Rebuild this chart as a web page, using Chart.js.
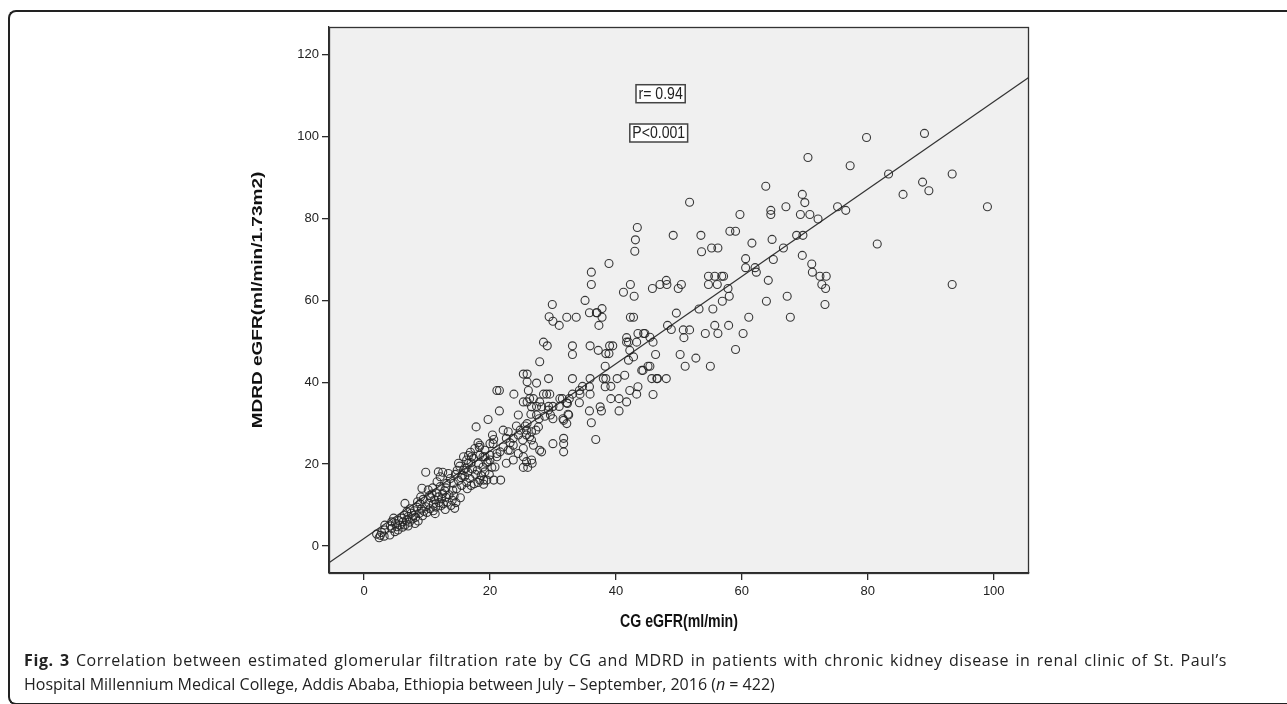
<!DOCTYPE html>
<html>
<head>
<meta charset="utf-8">
<script src="https://cdn.jsdelivr.net/npm/chart.js@4.4.1/dist/chart.umd.min.js"></script>
<style>
  html, body { margin: 0; padding: 0; background: #fff; }
  body { width: 1287px; height: 704px; position: relative; overflow: hidden; }
  #frame { position: absolute; left: 8px; top: 10px; width: 1300px; height: 691px;
           border: 2px solid #222; border-right: none; border-radius: 8px 0 0 8px; }
  #wrap { position: absolute; left: 0; top: 0; width: 1287px; height: 650px; }
  .cap { position: absolute; left: 24px; font-family: "Open Sans", "Noto Sans", sans-serif;
         font-size: 16px; line-height: 24px; color: #222; white-space: normal; }
  #cap1 { top: 648px; width: 1203px; letter-spacing: 0.62px; text-align: justify; text-align-last: justify; }
  #cap2 { top: 672px; width: 1250px; }
  .cap b { font-weight: 700; }
</style>
</head>
<body>
<div id="frame"></div>
<div id="wrap"><canvas id="c" width="1287" height="650"></canvas></div>
<div class="cap" id="cap1"><b>Fig. 3</b> Correlation between estimated glomerular filtration rate by CG and MDRD in patients with chronic kidney disease in renal clinic of St. Paul’s</div>
<div class="cap" id="cap2">Hospital Millennium Medical College, Addis Ababa, Ethiopia between July – September, 2016 (<i>n</i> = 422)</div>
<script>
// ---- Data: [CG eGFR, MDRD eGFR] ----
const highPoints = [
 [79.8,99.8],[89.0,100.8],[70.5,94.9],[77.2,92.9],[83.3,90.9],[93.4,90.9],[88.7,88.9],[89.7,86.8],
 [85.6,85.9],[99.0,82.9],[51.7,84.0],[63.8,87.9],[69.6,85.9],[70.0,83.9],[59.7,81.0],[64.6,82.0],
 [64.6,81.0],[67.0,82.9],[69.3,81.0],[70.8,81.0],[72.1,79.9],[75.2,82.9],[76.5,82.0],[49.1,75.9],
 [53.5,75.9],[53.6,71.9],[55.2,72.8],[56.2,72.8],[58.1,76.9],[59.0,76.9],[61.6,74.0],[64.8,74.9],
 [66.6,72.8],[68.7,75.9],[69.7,75.9],[69.6,71.0],[81.5,73.8],[60.6,70.2],[65.0,70.0],[71.1,68.9],
 [43.4,77.8],[43.1,74.8],[43.0,72.0],[38.9,69.0],[71.2,66.9],[72.4,65.9],[73.4,65.9],[72.7,63.9],
 [73.3,62.9],[73.2,59.0],[93.4,63.9],[60.6,68.0],[62.1,68.0],[62.3,66.9],[64.2,64.9],[54.7,65.9],
 [55.7,65.9],[56.8,65.9],[57.1,65.9],[54.7,63.9],[56.1,63.9],[57.8,62.9],[58.0,61.0],[56.9,59.8],
 [36.1,66.9],[36.1,63.9],[42.3,63.9],[42.9,61.0],[41.2,62.0],[45.8,62.9],[47.0,63.9],[48.0,64.9],
 [48.1,63.9],[49.9,62.9],[50.4,63.9],[63.9,59.8],[67.2,61.0]
];
const midPoints = [
 [55.4,57.9],[53.2,57.9],[49.6,56.9],[67.7,55.9],[61.1,55.9],[57.9,53.9],[55.7,53.9],[56.2,51.9],
 [54.2,51.9],[51.7,52.8],[50.7,52.8],[48.2,53.9],[48.8,52.9],[50.8,50.9],[45.9,49.8],[45.4,51.0],
 [60.2,51.9],[59.0,48.0],[46.3,46.8],[50.2,46.8],[52.7,45.9],[51.0,43.9],[55.0,43.9],[45.4,43.9],
 [45.7,40.9],[46.6,40.9],[48.0,40.9],[45.9,37.0],[29.9,59.0],[35.1,60.0],[35.8,57.0],[37.0,57.0],
 [37.8,58.0],[37.8,55.9],[37.3,53.9],[29.4,56.0],[30.0,54.9],[31.0,53.9],[32.2,55.9],[33.7,55.9],
 [42.3,55.9],[42.8,55.9],[43.5,51.9],[44.4,51.9],[41.7,50.9],[41.7,49.8],[43.3,49.8],[42.2,47.8],
 [44.3,42.9],[43.5,38.9],[43.3,37.1],[42.2,38.0],[41.7,35.2],[40.5,36.0],[40.5,33.0],[39.2,36.0],
 [39.2,39.0],[40.2,40.9],[38.3,43.9],[38.4,40.9],[38.0,40.9],[38.3,38.9],[38.4,47.0],[38.9,47.0],
 [39.5,48.9],[39.0,48.9],[37.2,47.8],[35.9,48.9],[33.1,48.9],[33.1,46.8],[28.5,49.8],[29.1,48.9],
 [27.9,45.0],[25.3,42.0],[25.9,42.0],[25.9,40.1],[27.4,39.8],[29.3,40.9],[33.1,40.9],[35.9,40.9],
 [35.8,38.9],[34.7,39.0],[35.9,37.1],[34.2,38.0],[34.2,35.0],[31.5,36.0],[31.1,36.0],[32.3,34.8],
 [32.6,36.0],[35.8,33.0],[37.5,34.0],[37.7,33.0],[36.1,30.1],[36.8,26.0],[32.5,32.0],[31.7,30.7],
 [32.2,29.9],[31.7,26.3],[31.7,25.0],[31.7,23.0],[30.0,25.0],[28.5,37.1],[29.0,37.1],[29.5,37.1],
 [27.4,34.1],[28.2,34.0],[29.3,34.1],[30.0,34.1],[31.0,34.1],[29.3,33.2],[29.6,32.0],[30.0,31.1],
 [26.5,32.2],[27.7,29.1],[26.3,36.0],[25.3,35.2],[25.9,35.2],[26.6,34.0],[27.4,32.0],[28.2,23.0],
 [23.8,37.1],[24.5,32.0],[21.5,38.0],[21.1,38.0],[21.5,33.0],[19.7,30.9],[17.8,29.1],[18.1,25.2],
 [18.3,24.1],[20.4,27.1],[20.6,26.0],[42.0,45.4],[45.1,43.9],[44.1,42.9],[41.4,41.7],[46.5,40.9],
 [42.0,49.8],[44.6,51.9],[42.8,46.2],[36.9,57.0]
];
const lowerMidPoints = [
 [26.1,38.0],[27.9,35.2],[26.9,36.0],[34.3,37.1],[33.1,37.1],[32.2,35.0],[28.7,31.7],[27.8,31.1],
 [31.6,31.1],[32.4,32.2],[22.1,28.3],[24.2,29.3],[25.6,29.3],[25.8,28.3],[25.8,27.1],[26.3,26.7],
 [25.2,25.9],[24.5,27.1],[23.7,26.3],[23.2,25.2],[22.6,26.3],[27.9,23.4],[26.6,25.9],[26.9,24.6],
 [26.6,21.0],[23.7,24.6],[23.2,23.4],[22.1,24.2],[21.6,23.0],[20.5,25.0],[18.4,24.6],[17.6,23.8],
 [20.0,21.0],[21.1,21.8],[17.1,21.8],[16.3,21.0],[15.8,21.8],[16.6,20.2],[19.2,21.8],[25.3,23.8],
 [24.5,22.6],[23.7,21.0],[25.3,21.8],[25.8,20.6],[22.6,20.2],[25.3,19.2],[26.0,19.2],[26.7,20.2],
 [20.6,16.1],[21.7,16.1],[18.4,16.1],[19.0,16.1],[19.5,16.1],[22.9,27.9],[24.8,28.3],[25.9,29.9],
 [26.6,27.9],[27.3,28.3],[22.9,23.4],[20.0,25.0],[19.2,23.4],[20.0,22.2],[18.9,21.8]
];
const lowPoints = [
 [2.0,2.9],[2.4,2.0],[2.6,2.6],[2.8,3.3],[3.2,2.4],[3.3,3.9],[3.3,5.1],
 [4.1,2.7],[4.4,4.3],[4.4,5.9],[4.9,3.5],[5.2,4.7],[5.4,3.9],[5.7,5.1],[4.7,6.8],[5.0,5.5],[5.5,6.2],[4.2,4.9],
 [6.0,6.8],[6.2,5.9],[6.5,5.1],[6.8,6.3],[6.5,10.4],[6.4,7.5],[7.0,7.2],[7.2,5.8],[6.8,8.4],[7.5,8.0],
 [7.7,6.6],[7.3,9.1],[7.9,7.5],[6.1,4.6],[7.0,4.9],
 [8.0,8.6],[8.2,7.0],[8.4,9.5],[8.6,6.1],[8.8,8.0],[8.9,10.3],[9.1,9.0],[9.3,7.4],[9.5,8.5],[9.4,11.4],
 [8.5,10.8],[8.1,5.5],[9.8,9.6],[9.2,14.1],[9.8,18.0],[9.0,12.0],
 [10.0,8.2],[10.2,13.7],[10.3,10.5],[10.5,9.1],[10.6,11.8],[10.8,12.7],[11.0,8.6],[11.0,10.2],[11.2,11.3],
 [11.4,9.5],[11.5,13.0],[11.6,15.7],[11.8,18.1],[10.9,14.2],[11.3,7.9],[10.4,12.3],[11.8,12.0],[11.9,10.6],
 [12.1,16.9],[12.1,14.5],[12.2,9.8],[12.3,11.5],[12.5,12.8],[12.6,10.3],[12.8,13.5],[12.9,8.9],[13.0,11.9],
 [13.1,15.3],[13.4,17.7],[13.7,16.5],[13.2,10.7],[13.5,12.5],[13.8,9.9],[12.5,18.0],[13.0,14.2],
 [14.2,15.3],[14.4,9.2],[14.0,11.2],[14.3,12.2],[14.6,10.6],[14.5,17.5],[14.8,18.5],[15.0,16.0],[15.2,19.5],
 [15.3,11.8],[15.5,14.8],[14.1,13.6],[15.0,20.2],[15.6,17.3],[15.8,18.5],[14.7,14.0],[15.4,16.7],
 [16.0,17.0],[16.2,19.0],[16.3,15.5],[16.5,18.0],[16.6,22.1],[16.8,16.5],[17.0,20.3],[17.2,18.8],[17.4,21.4],
 [17.5,15.2],[17.7,17.5],[16.4,14.0],[17.0,14.8],[16.9,22.9],
 [18.0,18.5],[18.2,20.0],[18.4,22.2],[18.6,17.2],[18.9,19.3],[19.2,18.1],[19.5,20.3],[19.7,20.6],[19.9,17.5],
 [20.3,19.2],[20.8,19.3],[21.1,22.6],[18.1,15.5],[19.0,15.1]
];

// regression line
const fitSlope = 1.067;
const fitIntercept = 1.86;

// axis extents and ticks
const xMin = -5.56, xMax = 105.6;
const yMin = -6.6, yMax = 126.8;
const xTicks = [0, 20, 40, 60, 80, 100];
const yTicks = [0, 20, 40, 60, 80, 100, 120];

// axis titles
const xTitle = 'CG eGFR(ml/min)';
const yTitle = 'MDRD eGFR(ml/min/1.73m2)';

// annotation labels (position in data units)
const labels = [
  { text: 'r= 0.94', x: 47.1, y: 110.5 },
  { text: 'P<0.001', x: 46.8, y: 100.9 }
];

const allPoints = [].concat(highPoints, midPoints, lowerMidPoints, lowPoints)
  .map(p => ({ x: p[0], y: p[1] }));

const ink = '#2b2b2b';
const squeeze = 0.745; // the original figure is horizontally compressed

const plotDecor = {
  id: 'plotDecor',
  beforeDraw(chart) {
    const { ctx, chartArea: a } = chart;
    ctx.save();
    ctx.fillStyle = '#f0f0f0';
    ctx.fillRect(a.left, a.top, a.right - a.left, a.bottom - a.top);
    ctx.restore();
  },
  afterDraw(chart) {
    const { ctx, chartArea: a, scales } = chart;
    ctx.save();
    ctx.strokeStyle = '#333';
    ctx.lineWidth = 1.3;
    ctx.strokeRect(a.left + 0.5, a.top + 0.5, a.right - a.left - 1, a.bottom - a.top);

    // annotation boxes
    ctx.font = '16px "Liberation Sans", Arial, sans-serif';
    ctx.textAlign = 'center';
    ctx.textBaseline = 'middle';
    labels.forEach(l => {
      const cx = scales.x.getPixelForValue(l.x);
      const cy = scales.y.getPixelForValue(l.y);
      const w = ctx.measureText(l.text).width * 0.88 + 5;
      const h = 18;
      ctx.fillStyle = '#fff';
      ctx.fillRect(cx - w / 2, cy - h / 2, w, h);
      ctx.strokeStyle = '#444';
      ctx.lineWidth = 1.5;
      ctx.strokeRect(cx - w / 2, cy - h / 2, w, h);
      ctx.save();
      ctx.translate(cx, cy + 1);
      ctx.scale(0.88, 1);
      ctx.fillStyle = '#222';
      ctx.fillText(l.text, 0, 0);
      ctx.restore();
    });

    // axis titles
    ctx.font = 'bold 19px "Liberation Sans", Arial, sans-serif';
    ctx.fillStyle = '#111';
    ctx.save();
    ctx.translate((a.left + a.right) / 2, scales.x.bottom - 28);
    ctx.scale(squeeze, 1);
    ctx.fillText(xTitle, 0, 0);
    ctx.restore();
    ctx.save();
    ctx.translate(scales.y.left + 18, (a.top + a.bottom) / 2);
    ctx.rotate(-Math.PI / 2);
    ctx.scale(1, squeeze);
    ctx.fillText(yTitle, 0, 0);
    ctx.restore();
    ctx.restore();
  }
};

const tickFont = { family: '"Liberation Sans", Arial, sans-serif', size: 13 };

new Chart(document.getElementById('c'), {
  type: 'scatter',
  data: {
    datasets: [
      {
        data: allPoints,
        pointRadius: 4,
        pointBorderWidth: 1.1,
        pointBorderColor: 'rgba(35,35,35,0.9)',
        pointBackgroundColor: 'rgba(0,0,0,0)',
        showLine: false
      },
      {
        type: 'line',
        data: [
          { x: xMin, y: fitIntercept + fitSlope * xMin },
          { x: xMax, y: fitIntercept + fitSlope * xMax }
        ],
        borderColor: '#333',
        borderWidth: 1.2,
        pointRadius: 0,
        fill: false
      }
    ]
  },
  options: {
    responsive: false,
    animation: false,
    events: [],
    layout: { padding: { left: 240, right: 258, top: 27, bottom: 0 } },
    plugins: { legend: { display: false }, tooltip: { enabled: false } },
    scales: {
      x: {
        type: 'linear', min: xMin, max: xMax,
        afterBuildTicks: s => { s.ticks = xTicks.map(v => ({ value: v })); },
        afterFit: s => { s.height = 77; },
        grid: { drawOnChartArea: false, drawTicks: true, tickLength: 7, color: ink, tickColor: ink, lineWidth: 1.3 },
        border: { display: true, color: ink, width: 1.3 },
        ticks: { color: '#222', font: tickFont, padding: 4, maxRotation: 0 },
        title: { display: false, text: xTitle }
      },
      y: {
        type: 'linear', min: yMin, max: yMax,
        afterBuildTicks: s => { s.ticks = yTicks.map(v => ({ value: v })); },
        afterFit: s => { s.width = 89; },
        grid: { drawOnChartArea: false, drawTicks: true, tickLength: 7, color: ink, tickColor: ink, lineWidth: 1.3 },
        border: { display: true, color: ink, width: 1.3 },
        ticks: { color: '#222', font: tickFont, padding: 3 },
        title: { display: false, text: yTitle }
      }
    }
  },
  plugins: [plotDecor]
});
</script>
</body>
</html>
